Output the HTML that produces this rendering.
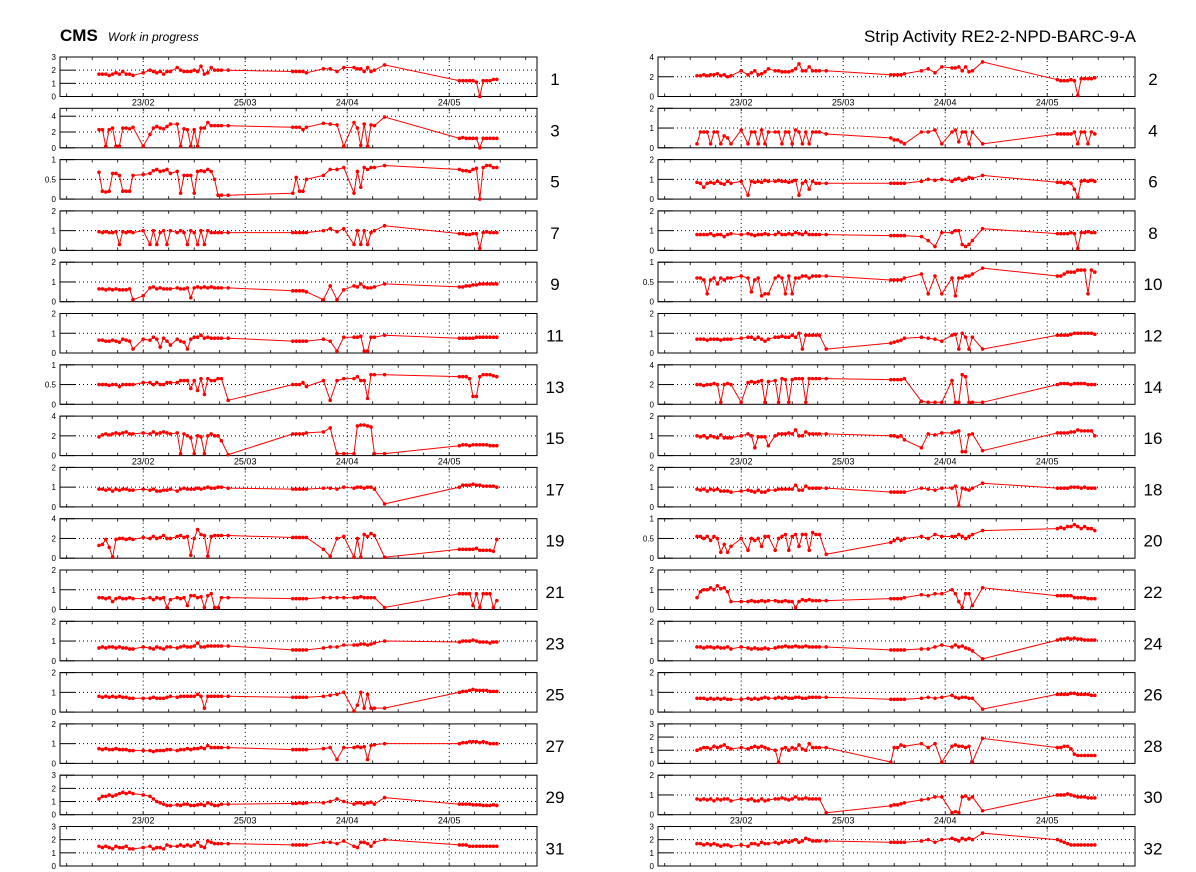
<!DOCTYPE html>
<html><head><meta charset="utf-8"><style>
html,body{margin:0;padding:0;background:#fff;}
svg{display:block;font-family:"Liberation Sans",sans-serif;}
</style></head><body>
<svg id="chart" width="1196" height="872" xmlns="http://www.w3.org/2000/svg">
<text x="60" y="41" font-size="17" font-weight="bold">CMS</text>
<text x="108" y="41" font-size="12" font-style="italic">Work in progress</text>
<text x="1136" y="42" font-size="17" text-anchor="end">Strip Activity RE2-2-NPD-BARC-9-A</text>
</svg>
<script>
// day offsets from 10 Feb
const days = [0,1,2,3,4,5,6,7,8,9,10,13,15,16,17,18,19,20,21,23,24,25,26,27,28,29,30,31,32,33,34,35,36,38,
57,58,59,60,61,66,68,70,72,75,76,77,78,79,80,81,84,
106,107,108,109,110,111,112,113,114,115,116,117];
const dateTickDays = [13,43,73,103];
const dateTickLabels = ["23/02","25/03","24/04","24/05"];
const yMax = [3,4,5,2,1,2,2,2,2,1,2,2,1,4,4,2,2,2,4,1,2,2,2,2,2,2,2,3,3,2,3,3];
const yStep = [1,2,2,1,0.5,1,1,1,1,0.5,1,1,0.5,2,2,1,1,1,2,0.5,1,1,1,1,1,1,1,1,1,1,1,1];
const s1=[1.7,1.7,1.7,1.6,1.7,1.8,1.7,1.9,1.7,1.7,1.6,1.8,2.0,1.9,1.8,1.9,1.7,1.9,1.9,2.2,2.0,1.9,1.9,1.9,2.0,1.9,2.3,1.7,1.8,2.2,2.0,2.0,2.0,2.0,1.9,1.9,1.9,1.9,1.8,2.1,2.1,1.9,2.2,2.2,2.1,2.1,1.9,2.2,1.9,2.0,2.4,1.2,1.2,1.2,1.2,1.2,1.1,0,1.2,1.2,1.2,1.3,1.3];
const s2=[2.1,2.1,2.2,2.1,2.2,2.2,2.3,2.1,2.2,2.0,2.1,2.6,2.2,2.4,2.6,2.2,2.3,2.5,2.8,2.6,2.6,2.5,2.5,2.5,2.6,2.8,3.3,2.6,2.6,3.0,2.6,2.6,2.6,2.6,2.2,2.2,2.2,2.2,2.3,2.6,2.8,2.4,3.0,2.9,2.9,3.0,2.6,3.0,2.5,2.6,3.5,1.7,1.6,1.6,1.6,1.7,1.6,0.1,1.8,1.8,1.8,1.8,1.9];
const s3=[2.3,2.3,0.2,2.3,2.5,0.2,0.2,2.5,2.5,2.4,2.6,0.2,1.7,2.5,2.7,2.5,2.4,2.7,3.0,3.0,0.2,2.4,2.3,0.2,2.3,0.2,2.5,2.5,3.2,2.8,2.8,2.8,2.8,2.8,2.6,2.6,2.6,2.3,2.6,3.1,3.0,2.9,0.2,3.2,2.5,0.3,3.0,0.2,2.9,2.8,3.9,1.2,1.3,1.2,1.2,1.2,1.2,0,1.2,1.2,1.2,1.2,1.2];
const s4=[0.2,0.8,0.8,0.8,0.2,0.8,0.8,0.2,0.6,0.5,0.2,0.9,0.2,0.8,0.8,0.2,0.9,0.2,0.8,0.8,0.8,0.2,0.8,0.8,0.2,0.9,0.8,0.2,0.8,0.2,0.8,0.8,0.8,0.7,0.5,0.4,0.4,0.3,0.2,0.8,0.8,0.9,0.2,0.8,0.9,0.3,0.8,0.8,0.2,0.8,0.2,0.7,0.7,0.7,0.7,0.7,0.8,0.2,0.8,0.8,0.2,0.8,0.7];
const s5=[0.68,0.2,0.18,0.2,0.65,0.65,0.6,0.2,0.2,0.2,0.6,0.62,0.65,0.72,0.75,0.7,0.72,0.75,0.65,0.7,0.15,0.6,0.6,0.6,0.15,0.7,0.72,0.7,0.75,0.7,0.5,0.1,0.1,0.1,0.15,0.55,0.2,0.2,0.5,0.6,0.75,0.75,0.8,0.15,0.7,0.3,0.8,0.75,0.8,0.8,0.85,0.75,0.72,0.72,0.7,0.75,0.78,0.0,0.8,0.85,0.85,0.8,0.8];
const s6=[0.85,0.8,0.6,0.8,0.85,0.8,0.9,0.8,0.75,0.9,0.8,0.9,0.2,0.9,0.85,0.9,0.85,0.95,0.9,0.9,0.95,0.9,0.9,0.85,0.9,0.95,0.2,0.8,0.9,0.5,0.9,0.8,0.8,0.8,0.8,0.8,0.8,0.8,0.8,0.9,1.0,0.95,1.0,0.9,1.0,1.05,0.95,1.0,1.1,1.05,1.2,0.85,0.85,0.8,0.85,0.8,0.5,0.1,0.9,0.95,0.9,0.95,0.9];
const s7=[0.95,0.9,0.95,0.9,0.9,0.95,0.3,0.95,0.9,0.95,0.9,1.0,0.3,1.0,0.3,0.9,1.0,0.3,1.0,0.9,1.0,0.9,0.3,1.0,0.9,0.3,1.0,0.3,1.0,0.9,0.9,0.9,0.9,0.9,0.9,0.9,0.9,0.9,0.9,1.0,1.1,0.95,1.1,0.3,1.0,0.3,1.0,0.3,0.9,1.0,1.25,0.85,0.85,0.8,0.8,0.85,0.85,0.1,0.9,0.95,0.9,0.9,0.9];
const s8=[0.8,0.8,0.8,0.8,0.85,0.75,0.8,0.8,0.7,0.8,0.85,0.8,0.85,0.8,0.75,0.8,0.8,0.85,0.8,0.8,0.9,0.8,0.8,0.85,0.8,0.9,0.85,0.8,0.9,0.8,0.8,0.8,0.8,0.8,0.75,0.75,0.75,0.75,0.75,0.7,0.5,0.2,0.9,0.9,1.0,1.0,0.3,0.2,0.3,0.5,1.1,0.85,0.85,0.85,0.85,0.9,0.85,0.1,0.9,0.9,0.95,0.9,0.9];
const s9=[0.65,0.65,0.6,0.65,0.6,0.65,0.6,0.6,0.6,0.65,0.1,0.3,0.7,0.75,0.65,0.7,0.65,0.65,0.65,0.7,0.65,0.65,0.7,0.2,0.7,0.75,0.7,0.75,0.7,0.75,0.7,0.7,0.7,0.7,0.55,0.55,0.55,0.55,0.5,0.1,0.8,0.1,0.6,0.8,0.75,0.9,0.75,0.7,0.7,0.75,0.9,0.75,0.75,0.8,0.8,0.85,0.85,0.9,0.9,0.9,0.9,0.9,0.9];
const s10=[0.6,0.6,0.55,0.2,0.55,0.6,0.45,0.6,0.55,0.6,0.6,0.65,0.6,0.25,0.55,0.6,0.15,0.2,0.2,0.6,0.65,0.6,0.2,0.65,0.2,0.6,0.6,0.65,0.65,0.6,0.65,0.65,0.65,0.65,0.55,0.55,0.55,0.55,0.6,0.7,0.2,0.65,0.2,0.6,0.15,0.6,0.6,0.65,0.65,0.7,0.85,0.65,0.65,0.7,0.75,0.75,0.75,0.8,0.8,0.8,0.2,0.8,0.75];
const s11=[0.65,0.65,0.6,0.6,0.65,0.6,0.55,0.7,0.65,0.6,0.2,0.7,0.65,0.8,0.7,0.3,0.75,0.6,0.4,0.7,0.6,0.55,0.2,0.7,0.8,0.8,0.9,0.75,0.8,0.75,0.75,0.75,0.75,0.75,0.6,0.6,0.6,0.6,0.6,0.7,0.6,0.1,0.8,0.8,0.8,0.85,0.1,0.1,0.8,0.8,0.9,0.75,0.75,0.75,0.75,0.75,0.8,0.8,0.8,0.8,0.8,0.8,0.8];
const s12=[0.7,0.7,0.7,0.65,0.7,0.7,0.7,0.65,0.7,0.7,0.7,0.75,0.8,0.8,0.7,0.8,0.7,0.6,0.7,0.8,0.8,0.85,0.8,0.8,0.9,0.8,1.0,0.2,0.9,0.9,0.9,0.9,0.9,0.2,0.5,0.55,0.6,0.65,0.75,0.8,0.75,0.7,0.6,0.9,0.95,0.2,1.0,0.8,0.2,0.8,0.2,0.9,0.9,0.9,0.9,0.95,1.0,1.0,1.0,1.0,1.0,1.0,0.95];
const s13=[0.5,0.5,0.5,0.48,0.5,0.5,0.45,0.5,0.5,0.5,0.5,0.55,0.55,0.5,0.55,0.5,0.5,0.55,0.55,0.55,0.6,0.6,0.6,0.4,0.6,0.35,0.65,0.25,0.65,0.6,0.6,0.65,0.65,0.1,0.5,0.5,0.5,0.55,0.45,0.6,0.1,0.6,0.65,0.65,0.7,0.6,0.6,0.15,0.75,0.75,0.75,0.7,0.7,0.7,0.65,0.2,0.2,0.7,0.75,0.75,0.75,0.72,0.7];
const s14=[2.0,2.0,1.9,2.0,2.0,2.1,2.0,0.2,2.0,2.1,2.0,0.2,2.2,2.3,2.2,2.3,2.4,0.2,2.3,2.4,0.2,2.6,2.5,0.2,2.5,2.6,2.6,2.6,0.2,2.6,2.6,2.6,2.6,2.6,2.5,2.5,2.5,2.5,2.6,0.3,0.2,0.2,0.2,2.4,0.2,0.2,3.0,2.8,0.2,0.2,0.2,2.0,2.1,2.1,2.1,2.0,2.1,2.1,2.1,2.1,2.0,2.0,2.0];
const s15=[1.9,2.1,2.2,2.1,2.2,2.3,2.2,2.3,2.4,2.2,2.2,2.3,2.2,2.4,2.2,2.3,2.4,2.3,2.2,2.3,0.2,2.2,2.0,1.8,0.2,2.0,1.9,0.2,2.0,2.2,2.0,2.0,1.5,0.1,2.2,2.2,2.2,2.2,2.3,2.4,2.8,0.2,0.2,0.2,3.0,3.1,3.1,3.0,2.9,0.2,0.2,1.0,1.1,1.1,1.0,1.1,1.1,1.1,1.1,1.1,1.0,1.0,1.0];
const s16=[1.0,0.95,1.0,0.9,1.0,0.95,0.9,1.05,0.9,0.9,0.9,1.0,1.1,1.0,0.4,0.95,0.95,0.95,0.5,1.0,1.1,1.1,1.1,1.15,1.1,1.3,1.0,1.0,1.2,1.1,1.1,1.1,1.1,1.1,1.0,1.0,0.95,1.0,0.8,0.4,1.1,1.05,1.15,1.15,1.2,1.25,0.2,0.2,1.05,1.1,0.25,1.15,1.15,1.15,1.15,1.2,1.2,1.3,1.25,1.25,1.25,1.25,1.0];
const s17=[0.9,0.9,0.85,0.9,0.8,0.9,0.85,0.9,0.9,0.85,0.85,0.9,0.85,0.9,0.8,0.8,0.85,0.85,0.9,0.8,0.9,0.95,0.9,0.9,0.9,0.95,0.9,0.95,1.0,0.95,0.95,1.0,1.0,0.95,0.9,0.9,0.9,0.9,0.9,0.95,0.95,0.9,1.0,0.95,1.0,1.0,0.95,1.0,1.0,0.9,0.15,1.0,1.1,1.1,1.1,1.15,1.1,1.1,1.05,1.05,1.05,1.05,1.0];
const s18=[0.9,0.85,0.9,0.8,0.9,0.85,0.9,0.8,0.8,0.8,0.75,0.8,0.85,0.8,0.75,0.85,0.75,0.75,0.85,0.85,0.9,0.9,0.9,0.9,0.9,1.1,0.85,0.85,1.05,0.95,0.95,0.95,0.95,0.95,0.75,0.75,0.75,0.75,0.75,0.95,0.9,0.85,0.95,0.95,1.05,0.05,0.95,0.9,0.85,0.95,1.2,0.95,0.95,0.95,0.95,1.0,1.0,1.0,0.95,1.0,0.95,0.95,0.95];
const s19=[1.3,1.4,1.9,1.1,0.1,1.9,2.0,2.0,1.9,2.0,1.9,2.1,2.0,2.2,2.0,2.1,2.3,2.0,2.0,2.2,2.3,2.1,2.2,0.3,2.0,2.9,2.4,2.3,0.2,2.2,2.3,2.3,2.3,2.3,2.1,2.1,2.1,2.1,2.1,0.9,0.2,2.0,2.2,0.1,2.0,0.1,2.4,2.2,2.5,2.3,0.1,0.9,0.9,0.9,0.9,0.9,1.0,0.8,0.8,0.8,0.8,0.7,1.9];
const s20=[0.55,0.55,0.5,0.55,0.45,0.55,0.5,0.15,0.35,0.15,0.3,0.5,0.2,0.5,0.45,0.5,0.3,0.55,0.55,0.2,0.5,0.55,0.6,0.2,0.55,0.6,0.3,0.6,0.6,0.2,0.65,0.6,0.6,0.1,0.4,0.45,0.5,0.45,0.5,0.55,0.5,0.6,0.55,0.55,0.55,0.6,0.55,0.5,0.55,0.6,0.7,0.75,0.78,0.75,0.8,0.8,0.85,0.8,0.75,0.8,0.75,0.75,0.7];
const s21=[0.6,0.6,0.55,0.6,0.4,0.55,0.6,0.55,0.55,0.6,0.55,0.55,0.6,0.5,0.6,0.55,0.6,0.1,0.5,0.6,0.55,0.6,0.2,0.7,0.7,0.6,0.65,0.1,0.7,0.8,0.1,0.1,0.6,0.6,0.55,0.55,0.55,0.55,0.55,0.6,0.6,0.6,0.6,0.6,0.6,0.65,0.6,0.6,0.6,0.6,0.1,0.8,0.8,0.8,0.8,0.2,0.8,0.1,0.8,0.8,0.8,0.1,0.45];
const s22=[0.6,0.9,1.0,1.0,1.1,1.0,1.2,1.05,1.1,0.9,0.4,0.4,0.4,0.45,0.4,0.4,0.45,0.4,0.45,0.45,0.4,0.4,0.45,0.4,0.4,0.1,0.4,0.5,0.45,0.5,0.45,0.45,0.45,0.45,0.55,0.55,0.55,0.55,0.6,0.75,0.7,0.8,0.8,1.0,0.8,0.4,0.1,0.8,0.8,0.2,1.1,0.7,0.7,0.7,0.7,0.7,0.6,0.6,0.6,0.6,0.55,0.55,0.55];
const s23=[0.65,0.7,0.65,0.7,0.7,0.65,0.7,0.65,0.65,0.6,0.6,0.7,0.65,0.6,0.7,0.65,0.6,0.7,0.7,0.65,0.7,0.75,0.7,0.7,0.75,0.9,0.7,0.7,0.75,0.75,0.75,0.75,0.75,0.75,0.55,0.55,0.55,0.55,0.55,0.65,0.7,0.7,0.8,0.8,0.8,0.85,0.85,0.8,0.85,0.9,1.0,0.95,1.0,1.0,1.0,1.05,1.0,0.95,0.95,0.95,0.9,0.95,0.95];
const s24=[0.7,0.7,0.65,0.7,0.7,0.65,0.7,0.65,0.65,0.7,0.6,0.7,0.65,0.6,0.65,0.6,0.6,0.65,0.6,0.65,0.7,0.7,0.75,0.7,0.7,0.75,0.7,0.7,0.75,0.7,0.7,0.7,0.7,0.7,0.55,0.55,0.55,0.55,0.55,0.6,0.6,0.7,0.8,0.7,0.8,0.7,0.75,0.65,0.6,0.5,0.1,1.05,1.1,1.1,1.15,1.1,1.15,1.1,1.1,1.05,1.05,1.05,1.05];
const s25=[0.8,0.75,0.8,0.75,0.8,0.75,0.8,0.75,0.75,0.7,0.7,0.7,0.7,0.75,0.7,0.7,0.7,0.75,0.8,0.75,0.8,0.8,0.8,0.8,0.8,0.9,0.8,0.2,0.8,0.8,0.8,0.8,0.8,0.8,0.75,0.75,0.75,0.75,0.75,0.8,0.85,0.9,1.0,0.05,0.35,1.0,0.2,0.9,0.2,0.2,0.2,1.0,1.05,1.05,1.1,1.15,1.1,1.1,1.1,1.1,1.05,1.05,1.05];
const s26=[0.7,0.7,0.7,0.65,0.7,0.65,0.7,0.65,0.7,0.65,0.65,0.65,0.7,0.65,0.7,0.65,0.7,0.75,0.7,0.7,0.75,0.7,0.75,0.7,0.7,0.75,0.75,0.7,0.7,0.75,0.75,0.75,0.75,0.75,0.65,0.65,0.65,0.65,0.65,0.7,0.75,0.7,0.75,0.85,0.75,0.7,0.75,0.75,0.7,0.7,0.15,0.9,0.9,0.9,0.9,0.95,0.95,0.9,0.9,0.9,0.9,0.85,0.85];
const s27=[0.75,0.7,0.75,0.7,0.7,0.75,0.7,0.7,0.7,0.65,0.65,0.65,0.65,0.6,0.65,0.65,0.65,0.7,0.7,0.65,0.7,0.7,0.75,0.7,0.75,0.75,0.8,0.75,0.9,0.8,0.8,0.8,0.8,0.8,0.7,0.7,0.7,0.7,0.7,0.75,0.8,0.2,0.8,0.8,0.85,0.8,0.85,0.2,0.9,0.95,1.0,1.0,1.05,1.05,1.1,1.1,1.1,1.05,1.1,1.05,1.0,1.0,1.0];
const s28=[1.0,1.1,1.2,1.2,1.1,1.3,1.2,1.3,1.4,1.2,1.1,1.2,1.1,1.2,1.3,1.2,1.3,1.2,1.1,1.0,0.1,1.1,1.2,1.0,1.2,1.1,1.4,1.1,1.0,1.5,1.2,1.2,1.2,1.2,0.1,1.2,1.2,1.4,1.3,1.5,1.2,1.5,0.1,1.3,1.4,1.3,1.3,1.2,1.3,0.1,1.9,1.2,1.2,1.3,1.3,1.1,0.7,0.6,0.6,0.6,0.6,0.6,0.6];
const s29=[1.2,1.4,1.4,1.5,1.4,1.5,1.6,1.7,1.6,1.7,1.6,1.5,1.4,1.2,1.0,0.9,0.8,0.7,0.7,0.75,0.7,0.8,0.8,0.7,0.7,0.75,0.8,0.7,0.9,0.8,0.7,0.7,0.8,0.8,0.85,0.85,0.9,0.85,0.9,0.9,1.0,1.2,1.0,0.8,0.9,0.9,0.8,0.9,0.95,0.8,1.3,0.8,0.8,0.8,0.8,0.75,0.75,0.75,0.7,0.7,0.7,0.75,0.7];
const s30=[0.8,0.75,0.8,0.75,0.8,0.7,0.8,0.75,0.8,0.8,0.7,0.8,0.75,0.8,0.7,0.7,0.8,0.7,0.75,0.8,0.8,0.85,0.8,0.75,0.8,0.9,0.8,0.8,0.85,0.8,0.8,0.8,0.8,0.1,0.45,0.5,0.5,0.55,0.6,0.75,0.8,0.9,0.9,0.1,0.15,0.1,0.9,0.95,0.8,0.9,0.2,1.0,1.0,1.0,1.05,1.0,0.95,0.9,0.9,0.9,0.85,0.85,0.85];
const s31=[1.5,1.4,1.5,1.4,1.3,1.5,1.4,1.4,1.5,1.3,1.3,1.4,1.5,1.3,1.4,1.4,1.3,1.6,1.5,1.5,1.6,1.5,1.6,1.5,1.6,1.8,1.5,1.4,1.9,1.8,1.7,1.7,1.7,1.7,1.6,1.6,1.6,1.6,1.6,1.8,1.8,1.7,1.9,1.5,1.4,1.8,1.8,1.7,1.5,1.8,2.0,1.6,1.6,1.6,1.5,1.5,1.5,1.5,1.5,1.5,1.5,1.5,1.5];
const s32=[1.7,1.7,1.6,1.7,1.6,1.7,1.6,1.5,1.6,1.6,1.5,1.6,1.5,1.7,1.7,1.6,1.8,1.7,1.7,1.8,1.7,1.8,1.9,1.8,1.9,2.0,1.8,1.9,2.1,2.0,1.9,1.9,1.9,1.9,1.8,1.8,1.8,1.8,1.8,1.9,2.0,1.8,2.0,2.1,2.0,1.9,2.1,2.0,2.1,2.0,2.5,2.0,1.9,1.8,1.7,1.6,1.6,1.6,1.6,1.6,1.6,1.6,1.6];
const series = [s1,s2,s3,s4,s5,s6,s7,s8,s9,s10,s11,s12,s13,s14,s15,s16,s17,s18,s19,s20,s21,s22,s23,s24,s25,s26,s27,s28,s29,s30,s31,s32];

const NS="http://www.w3.org/2000/svg";
const svg=document.getElementById('chart');
function mk(tag,attrs,parent){const e=document.createElementNS(NS,tag);for(const k in attrs)e.setAttribute(k,attrs[k]);(parent||svg).appendChild(e);return e;}
const W=477,H=39.5,PITCH=51.3,PXDAY=3.4;
const dateRows=[0,7,14];
series.forEach((vals,i)=>{
  const col=i%2,row=Math.floor(i/2);
  const L=col?658:60,T=57+row*PITCH;
  const g=mk('g',{});
  
  
  const xs=d=>L+39+d*PXDAY;
  const ys=v=>T+H-v/yMax[i]*H;
  for(let d=-9.5;d<130;d+=7.5){const x=xs(d);if(x<=L+1||x>=L+W-1)continue;
    mk('line',{x1:x,x2:x,y1:T,y2:T+3,stroke:'#000','stroke-width':0.8},g);
    mk('line',{x1:x,x2:x,y1:T+H,y2:T+H-3,stroke:'#000','stroke-width':0.8},g);}
  dateTickDays.forEach((d,k)=>{const x=xs(d);
    const gl=mk('line',{x1:x,x2:x,y1:T,y2:T+H,stroke:'#000','stroke-width':1,'stroke-dasharray':'1,3'},g);
    
    
    if(dateRows.includes(row)){const t=mk('text',{x:x,y:T+H+9,'font-size':9,'text-anchor':'middle'},g);t.textContent=dateTickLabels[k];
      
      }
  });
  for(let v=0;v<=yMax[i]+1e-9;v+=yStep[i]){const y=ys(v);
    const t=mk('text',{x:L-4,y:y+3,'font-size':8,'text-anchor':'end'},g);t.textContent=String(Math.round(v*10)/10);
    
    
    mk('line',{x1:L,x2:L+15,y1:y,y2:y,stroke:'#000','stroke-width':1},g);
    if(v>0&&v<yMax[i]-1e-9)mk('line',{x1:L+15,x2:L+W,y1:y,y2:y,stroke:'#000','stroke-width':1,'stroke-dasharray':'1,3'},g);
  }
  const fr=mk('rect',{x:L,y:T,width:W,height:H,fill:'none',stroke:'#000','stroke-width':1},g);
  
  
  const n=Math.min(vals.length,days.length);
  let pts=[];for(let k=0;k<n;k++)pts.push(xs(days[k]).toFixed(1)+','+ys(vals[k]).toFixed(1));
  const pl=mk('polyline',{points:pts.join(' '),fill:'none',stroke:'#f00','stroke-width':1},g);
  
  
  for(let k=0;k<n;k++){const c=mk('circle',{cx:xs(days[k]),cy:ys(vals[k]),r:1.8,fill:'#f00'},g);
    
    }
  const lb=mk('text',{x:L+495,y:T+28,'font-size':17,'text-anchor':'middle'},g);lb.textContent=String(i+1);
  
  
});
</script>
</body></html>
